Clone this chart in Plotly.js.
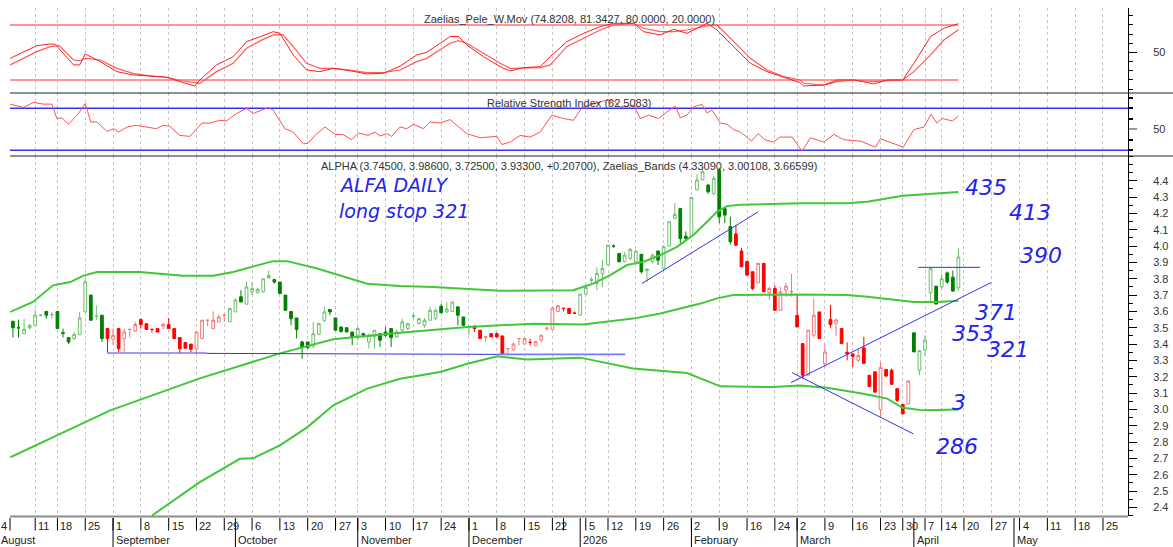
<!DOCTYPE html>
<html><head><meta charset="utf-8">
<script src="https://cdn.plot.ly/plotly-3.0.1.min.js"></script>
<style>html,body{margin:0;padding:0;background:#fff}#chart{width:1173px;height:547px}</style>
</head><body><div id="chart"></div>
<script>
// ---------- calendar ----------
const calendarStart = '2025-08-01';
const calendarEnd = '2026-05-29';
const holidays = ['2025-08-15','2025-10-28','2025-12-24','2025-12-25','2025-12-26','2026-01-01','2026-01-06','2026-02-23','2026-03-25','2026-04-03','2026-04-06','2026-04-10','2026-04-13'];
const monthNames = ['January','February','March','April','May','June','July','August','September','October','November','December'];

// ---------- candles (trading-day index of first candle = 1, 2025-08-05) ----------
const firstCandle = 1;
const open = [3.54,3.50,3.465,3.50,3.515,3.577,3.60,3.58,3.60,3.47,
3.44,3.434,3.458,3.597,3.70,3.57,3.577,3.495,3.43,3.495,
3.434,3.49,3.48,3.55,3.525,3.49,3.495,3.51,3.52,3.495,
3.44,3.41,3.40,3.37,3.434,3.546,3.495,3.536,3.577,3.536,
3.597,3.69,3.644,3.72,3.715,3.72,3.805,3.795,3.78,3.70,
3.60,3.56,3.413,3.413,3.39,3.46,3.545,3.612,3.56,3.505,
3.50,3.474,3.454,3.464,3.413,3.444,3.464,3.474,3.495,3.444,
3.485,3.495,3.57,3.526,3.515,3.546,3.556,3.632,3.597,3.60,
3.628,3.566,3.50,3.51,3.485,3.444,3.464,3.464,3.45,3.372,
3.365,3.434,3.40,3.41,3.39,3.424,3.495,3.49,3.60,3.62,
3.618,3.59,3.577,3.706,3.79,3.771,3.832,3.884,4.00,3.955,
3.904,3.925,3.904,3.95,3.85,3.904,3.97,3.865,4.00,4.17,
4.231,4.06,4.06,4.344,4.405,4.374,4.323,4.466,4.23,4.12,
4.075,3.97,3.906,3.843,3.775,3.894,3.715,3.74,3.607,3.73,
3.72,3.575,3.403,3.21,3.454,3.597,3.28,3.55,3.527,3.495,
3.35,3.34,3.30,3.376,3.209,3.23,2.998,3.245,3.24,3.127,
3.03,3.035,3.469,3.24,3.363,3.714,3.755,3.75,3.836,3.81,
3.745];
const high = [3.54,3.55,3.555,3.525,3.61,3.58,3.60,3.597,3.60,3.495,
3.44,3.474,3.597,3.80,3.70,3.638,3.577,3.495,3.495,3.50,
3.495,3.49,3.536,3.556,3.525,3.49,3.495,3.53,3.56,3.495,
3.44,3.41,3.40,3.474,3.546,3.546,3.60,3.58,3.577,3.618,
3.68,3.73,3.785,3.78,3.745,3.80,3.852,3.80,3.78,3.70,
3.60,3.56,3.42,3.413,3.536,3.53,3.63,3.612,3.56,3.505,
3.50,3.474,3.505,3.47,3.464,3.485,3.464,3.505,3.495,3.49,
3.556,3.53,3.59,3.56,3.56,3.63,3.618,3.648,3.658,3.66,
3.628,3.566,3.515,3.515,3.485,3.444,3.464,3.47,3.45,3.375,
3.41,3.434,3.44,3.434,3.42,3.458,3.51,3.625,3.638,3.62,
3.618,3.60,3.706,3.75,3.812,3.87,3.914,4.006,4.01,3.955,
3.965,3.99,3.975,3.95,3.86,3.955,3.97,4.006,4.15,4.262,
4.231,4.09,4.30,4.44,4.47,4.38,4.43,4.48,4.24,4.18,
4.13,3.99,3.906,3.843,3.895,3.894,3.75,3.76,3.75,3.775,
3.83,3.70,3.403,3.485,3.68,3.597,3.40,3.64,3.555,3.495,
3.41,3.34,3.37,3.445,3.209,3.23,3.29,3.245,3.25,3.127,
3.03,3.18,3.469,3.36,3.455,3.863,3.755,3.83,3.845,3.85,
3.986];
const low = [3.44,3.44,3.46,3.49,3.515,3.57,3.556,3.556,3.495,3.44,
3.40,3.424,3.454,3.597,3.546,3.546,3.413,3.352,3.393,3.352,
3.352,3.44,3.474,3.495,3.49,3.47,3.474,3.49,3.495,3.434,
3.34,3.37,3.35,3.34,3.434,3.51,3.495,3.536,3.536,3.536,
3.597,3.658,3.644,3.70,3.71,3.715,3.80,3.77,3.71,3.607,
3.515,3.434,3.31,3.37,3.372,3.454,3.536,3.577,3.485,3.47,
3.474,3.393,3.424,3.44,3.372,3.372,3.383,3.444,3.383,3.44,
3.474,3.485,3.556,3.52,3.50,3.546,3.546,3.59,3.59,3.597,
3.515,3.51,3.454,3.474,3.434,3.413,3.444,3.44,3.34,3.33,
3.36,3.393,3.40,3.393,3.39,3.413,3.48,3.49,3.597,3.60,
3.587,3.585,3.577,3.70,3.761,3.73,3.75,3.884,3.99,3.904,
3.904,3.915,3.904,3.832,3.78,3.894,3.884,3.853,4.00,4.165,
4.015,4.03,4.06,4.344,4.405,4.32,4.31,4.14,4.14,4.01,
4.0,3.874,3.822,3.73,3.775,3.72,3.67,3.607,3.607,3.69,
3.69,3.505,3.188,3.21,3.44,3.434,3.26,3.50,3.45,3.403,
3.30,3.26,3.29,3.282,3.14,3.10,2.95,3.20,3.15,3.045,
2.97,3.03,3.352,3.21,3.33,3.66,3.645,3.74,3.77,3.72,
3.725];
const close = [3.50,3.50,3.49,3.515,3.577,3.577,3.577,3.58,3.495,3.465,
3.413,3.458,3.56,3.781,3.546,3.57,3.434,3.434,3.454,3.372,
3.474,3.49,3.52,3.52,3.49,3.49,3.474,3.52,3.495,3.434,
3.372,3.375,3.368,3.474,3.546,3.546,3.546,3.566,3.577,3.618,
3.67,3.658,3.75,3.74,3.735,3.80,3.82,3.78,3.71,3.607,
3.556,3.49,3.378,3.378,3.464,3.525,3.597,3.597,3.485,3.478,
3.474,3.444,3.495,3.454,3.454,3.485,3.424,3.454,3.44,3.474,
3.536,3.525,3.572,3.556,3.546,3.607,3.607,3.592,3.615,3.658,
3.577,3.515,3.505,3.495,3.434,3.444,3.444,3.444,3.34,3.372,
3.40,3.434,3.434,3.41,3.415,3.454,3.497,3.62,3.635,3.618,
3.587,3.588,3.706,3.747,3.795,3.832,3.863,4.006,4.00,3.904,
3.945,3.98,3.97,3.843,3.86,3.945,3.914,3.996,4.149,4.194,
4.047,4.047,4.298,4.405,4.456,4.333,4.415,4.18,4.19,4.027,
4.006,3.874,3.822,3.74,3.894,3.72,3.74,3.607,3.72,3.755,
3.722,3.505,3.209,3.485,3.577,3.434,3.352,3.52,3.548,3.403,
3.34,3.325,3.33,3.282,3.14,3.106,3.256,3.204,3.154,3.055,
2.973,3.174,3.352,3.36,3.424,3.862,3.645,3.80,3.78,3.725,
3.933];
// trading-day index ranges where candles are drawn red (rest green)
const redRanges = [[18,39],[84,102],[131,162]];

// ---------- Zaelias bands (trading-day index, price) ----------
const upperBandX = [0.5,4.6,8.2,11.3,13.6,16.1,23.8,31.6,37,40.6,47.8,50.3,55.7,64.7,70.6,76.5,88.6,101.7,103.5,105.3,108.4,111.4,114.4,117.4,120.4,123.4,125.8,127.6,129.4,131.8,142.6,151,154.6,161,171];
const upperBandY = [3.597,3.658,3.76,3.78,3.818,3.842,3.842,3.818,3.818,3.842,3.908,3.908,3.863,3.77,3.755,3.75,3.726,3.73,3.75,3.77,3.822,3.884,3.904,3.945,3.996,4.07,4.149,4.21,4.245,4.253,4.262,4.262,4.272,4.309,4.331];
const midBandX = [0.5,18.5,34.6,49,58.6,70.6,82.7,94.5,103.5,112.5,117.4,124.6,127.6,130.5,142.5,151,154.6,163,167.2,171];
const midBandY = [2.707,2.994,3.19,3.343,3.43,3.47,3.505,3.525,3.52,3.556,3.587,3.648,3.68,3.70,3.704,3.70,3.69,3.658,3.658,3.666];
const lowBandX = [26,34.6,41.8,44.2,49,53.9,58.6,64.7,70.6,77.8,82.7,88.1,93.5,103,112.5,122.2,128.2,137.7,142.5,147.4,153.9,158.2,161,164.7,171];
const lowBandY = [2.35,2.554,2.697,2.70,2.78,2.89,3.025,3.127,3.188,3.229,3.28,3.325,3.305,3.317,3.25,3.223,3.141,3.137,3.147,3.133,3.096,3.066,3.01,2.994,3.0];

// ---------- Zaelias_Pele_W.Mov ----------
const wmovFastX = [0.5,3.5,5.3,7.7,8.6,11.9,13,14,16.7,19.7,22.6,25.6,28.6,31.6,33.7,34.6,37.6,40.6,43,45.5,47.8,49,51.4,53.8,56.2,58.6,61.6,64.6,67.6,70.6,73.6,75.4,79.6,81.1,82.6,85.6,88.6,90.4,92.8,95.8,97.6,100.6,103.6,106.6,109,112.6,114.4,117.4,119.8,122.2,125.8,127.6,130.6,133.6,136.6,139.6,142.5,143.2,146.8,149.2,152.2,155.8,158.2,161,163,166,168.4,171];
const wmovFastY = [43.6,52.7,57.4,59.3,58.9,36.4,36.4,48.4,40,29.1,25.5,24.4,23,17.1,13.5,20,36.4,45.4,61.8,67.3,72.7,70.9,47.3,30.9,29.1,32.7,30.1,26.6,27.3,35,47.3,50.2,67.3,67.5,58.2,45.4,34.5,29.8,33.5,34.5,45.4,61.8,70.9,78.2,81.8,81.8,72.7,69.1,75.3,70.9,81.8,74.5,56.3,38.2,29.1,23,17.1,13.5,14.5,20,20,15.7,20,20,38.2,67.3,76.4,81.3427];
const wmovSlowX = [0.5,3.5,5.3,7.7,9.3,11.9,13,14,16.7,19.7,22.6,25.6,28.6,31.6,34.6,37.6,40.6,43,45.5,47.8,49.5,51.4,53.8,56.2,58.6,61.6,64.6,67.6,70.6,73.6,75.4,79.6,81.1,82.6,85.6,88.6,90.4,92.8,95.8,97.6,100.6,103.6,106.6,109,112.6,114.4,117.4,119.8,122.2,125.8,127.6,130.6,133.6,136.6,139.6,142.5,143.2,146.8,149.2,152.2,155.8,158.2,161,163,166,168.4,171];
const wmovSlowY = [36.4,45.4,50.9,56.3,57.5,41.8,41,43.6,41.8,32.7,27.3,24.4,23,18.9,16.4,29.1,38.2,54.5,62.9,69.1,69.5,56.3,38.2,32.7,32.7,30.9,28,28,30.9,40,43.6,60,62.9,60,49.1,38.2,32.7,32.7,33.5,36.4,56.3,65.5,74.5,80,81.8,76.4,72.7,72.7,74.5,78.9,80,61.8,43.6,30.9,23.6,20,16.4,14.5,18.2,20,18.2,19.3,20,29.1,47.3,63.6,74.8208];
const wmovLevels = [80, 20];

// ---------- RSI ----------
const rsiX = [0.5,2.9,4.7,6.5,8.0,8.9,9.8,11,12.8,14,15,16.1,17.9,19.1,20,21.5,23.2,25,26.8,28,29.2,31,32.8,35,36.4,38.2,39.4,41.2,43,44.2,46.9,47.8,49.9,51.4,53.2,54.1,55.3,57.1,58.9,60.4,61.9,63.1,64.9,66.1,67,68.2,69.1,70.6,71.8,73,74.8,76,77.8,79.6,82.6,85,88,88.9,90.4,92.2,94,95.8,97.9,100,101.8,103.3,106,107.8,109.3,110.2,112.6,113.8,115.3,117.1,118.6,120.1,121,122.2,123.4,124.9,125.8,126.7,128.2,129.4,130.6,131.8,133.8,135,136.2,137.7,138.9,141.1,142.9,144.4,146.8,148.6,150.4,153.4,156.1,157,161.1,163,164.8,166.1,167.1,168.1,169.9,171];
const rsiY = [74,70.8,75.7,74,74,60.3,61,54.8,65.1,74.7,57,57,48,50.6,47.4,52.2,53.8,52.2,50.6,53.8,52.9,44.2,43.3,56,56,58.6,58,65.1,69.9,65.1,70.8,68.2,50.6,47.4,36.2,36.8,44.2,52.2,45.2,44.9,40.1,46.5,44.2,47.4,43.6,45.9,43.3,52.2,50.6,54.8,50.6,57,56,59.2,45.9,42,43.3,35.6,37.8,44.2,42.6,47.4,63.5,60.3,58.6,70.8,74.7,77.9,76.3,70.8,73.1,60.3,63.5,60.3,66.7,72.1,61,63.5,71.5,73.7,65.7,68.2,56,54.8,49.7,47.4,38.8,45.9,40.1,37.8,42.6,42.6,29.2,42,37.8,45.2,40.1,38.8,33,41,33,49.7,52.2,64.4,56,60.3,58,62.5083];
const rsiLevels = [70, 30];

// ---------- drawn trend lines ----------
const trendX0 = [17.9, 35.9, 88, 114.1, 140.9, 141.1, 163.8];
const trendY0 = [3.345, 3.343, 3.337, 3.771, 3.164, 3.225, 3.87];
const trendX1 = [35.9, 88, 111.1, 135, 176.9, 162.9, 174.9];
const trendY1 = [3.345, 3.337, 3.337, 4.21, 3.777, 2.85, 3.87];

// ---------- handwritten notes ----------
const noteText = ['ALFA DAILY','long stop 321','435','413','390','371','353','321','3','286'];
const noteX = [59.3, 59.3, 171.9, 179.8, 181.8, 173.7, 169.5, 175.8, 169.5, 166.6];
const noteY = [4.374, 4.215, 4.362, 4.209, 3.945, 3.595, 3.466, 3.368, 3.043, 2.773];

// ---------- titles ----------
const titleWmov = 'Zaelias_Pele_W.Mov (74.8208, 81.3427, 80.0000, 20.0000)';
const titleRsi = 'Relative Strength Index (62.5083)';
const titleMain = 'ALPHA (3.74500, 3.98600, 3.72500, 3.93300, +0.20700), Zaelias_Bands (4.33090, 3.00108, 3.66599)';

// ================= build =================
const ymd = d => d.toISOString().slice(0,10);
const days = [];
{
  let d = new Date(calendarStart + 'T00:00:00Z');
  const e = new Date(calendarEnd + 'T00:00:00Z');
  while (d <= e) {
    const wd = d.getUTCDay();
    if (wd !== 0 && wd !== 6 && !holidays.includes(ymd(d))) days.push(new Date(d));
    d = new Date(d.getTime() + 86400000);
  }
}
const idxOf = k => k - 1; // 2025-08-04 -> 0
const weekKey = dt => { const wd = (dt.getUTCDay() + 6) % 7; return ymd(new Date(dt.getTime() - wd*86400000)); };
const weeks = [], months = [];
for (let k = 0; k < days.length; k++) {
  if (k === 0 || weekKey(days[k]) !== weekKey(days[k-1])) weeks.push({idx: idxOf(k), dt: days[k]});
  if (k === 0 || days[k].getUTCMonth() !== days[k-1].getUTCMonth()) months.push({idx: idxOf(k), dt: days[k]});
}
weeks.forEach((w, j) => {
  const nxt = j + 1 < weeks.length ? weeks[j+1].idx : 1e9;
  w.skip = months.some(m => m.dt.getUTCMonth() === 0 && m.idx > w.idx && m.idx < nxt);
});

const X0 = 0.47, X1 = 201.5;
const PW = 1118;              // plot width px
const PH = 508;               // plot height px
const py = px => -px / PH;    // px below plot bottom -> paper y
const toPaperX = ix => (ix - X0) / (X1 - X0);
const leftEdgePaper = -9 / PW; // figure's left edge (+1px) in paper units

// candles
const g = {x:[],o:[],h:[],l:[],c:[]}, r = {x:[],o:[],h:[],l:[],c:[]};
const n = Math.min(open.length, high.length, low.length, close.length);
for (let k = 0; k < n; k++) {
  const ix = firstCandle + k;
  const isRed = redRanges.some(([a,b]) => ix >= a && ix <= b);
  const t = isRed ? r : g;
  t.x.push(ix); t.o.push(open[k]); t.c.push(close[k]);
  t.h.push(Math.max(high[k], open[k], close[k])); t.l.push(Math.min(low[k], open[k], close[k]));
}
const candle = (t, upCol, dnCol) => ({
  type:'candlestick', x:t.x, open:t.o, high:t.h, low:t.l, close:t.c, xaxis:'x', yaxis:'y',
  increasing:{line:{color:upCol, width:1}, fillcolor:'#ffffff'},
  decreasing:{line:{color:dnCol, width:1}, fillcolor:dnCol},
  whiskerwidth:0, hoverinfo:'skip'
});

const traces = [];
const bandStyle = {color:'rgb(64,200,56)', width:2};
traces.push({type:'scatter', mode:'lines', x:upperBandX, y:upperBandY, line:bandStyle, xaxis:'x', yaxis:'y', hoverinfo:'skip'});
traces.push({type:'scatter', mode:'lines', x:midBandX, y:midBandY, line:bandStyle, xaxis:'x', yaxis:'y', hoverinfo:'skip'});
traces.push({type:'scatter', mode:'lines', x:lowBandX, y:lowBandY, line:bandStyle, xaxis:'x', yaxis:'y', hoverinfo:'skip'});
for (let k = 0; k < trendX0.length; k++) {
  const light = (k === 0 || k === 2);
  traces.push({type:'scatter', mode:'lines', x:[trendX0[k], trendX1[k]], y:[trendY0[k], trendY1[k]],
    line:{color: light ? 'rgb(120,120,255)' : 'rgb(50,50,230)', width: light ? 1.6 : 1}, xaxis:'x', yaxis:'y', hoverinfo:'skip'});
}
traces.push(candle(g, 'rgb(110,190,110)', 'rgb(0,128,0)'));
traces.push(candle(r, 'rgb(242,120,120)', 'rgb(255,0,0)'));

// W.Mov panel
wmovLevels.forEach(v => traces.push({type:'scatter', mode:'lines', x:[X0, firstCandle + n - 1], y:[v, v],
  line:{color:'rgb(255,150,150)', width:2}, xaxis:'x', yaxis:'y3', hoverinfo:'skip'}));
traces.push({type:'scatter', mode:'lines', x:wmovSlowX, y:wmovSlowY, line:{color:'rgb(255,90,90)', width:1.2}, xaxis:'x', yaxis:'y3', hoverinfo:'skip'});
traces.push({type:'scatter', mode:'lines', x:wmovFastX, y:wmovFastY, line:{color:'rgb(255,30,30)', width:1}, xaxis:'x', yaxis:'y3', hoverinfo:'skip'});

// RSI panel
rsiLevels.forEach(v => traces.push({type:'scatter', mode:'lines', x:[X0, X1], y:[v, v],
  line:{color:'rgb(50,50,255)', width:1.5}, xaxis:'x', yaxis:'y2', hoverinfo:'skip'}));
traces.push({type:'scatter', mode:'lines', x:rsiX, y:rsiY, line:{color:'rgb(255,80,80)', width:1}, xaxis:'x', yaxis:'y2', hoverinfo:'skip'});

// annotations
const baseFont = {family:'Liberation Sans, Arial, sans-serif', size:11, color:'#222'};
const ann = [];
ann.push({xref:'paper', yref:'paper', x:0.5, y:(516-19)/PH, text:titleWmov, showarrow:false, font:{...baseFont, color:'#333'}, xanchor:'center', yanchor:'middle'});
ann.push({xref:'paper', yref:'paper', x:0.5, y:(516-103)/PH, text:titleRsi, showarrow:false, font:{...baseFont, color:'#333'}, xanchor:'center', yanchor:'middle'});
ann.push({xref:'paper', yref:'paper', x:0.5, y:(516-166)/PH, text:titleMain, showarrow:false, font:{...baseFont, color:'#333'}, xanchor:'center', yanchor:'middle'});
noteText.forEach((t, k) => ann.push({xref:'x', yref:'y', x:noteX[k], y:noteY[k], text:t, showarrow:false,
  xanchor:'left', yanchor:'middle', font:{family:'DejaVu Sans, sans-serif', size: k < 2 ? 19 : 22, style:'italic', color:'rgb(35,35,235)'}}));

const shapes = [];
weeks.forEach(w => {
  if (w.idx < 0) return;
  const inside = w.idx > X0;
  if (!w.skip) ann.push({xref:'paper', yref:'paper', x: inside ? toPaperX(w.idx) : leftEdgePaper, y:py(9.5),
    text:String(w.dt.getUTCDate()), showarrow:false, xanchor:'left', yanchor:'middle', xshift: inside ? 1 : -2, font:baseFont});
  if (inside) shapes.push({type:'line', xref:'x', yref:'paper', x0:w.idx, x1:w.idx, y0:py(2), y1:py(14.5), line:{color:'#000', width:1}});
});
months.forEach(m => {
  const inside = m.idx > X0;
  const txt = m.dt.getUTCMonth() === 0 ? String(m.dt.getUTCFullYear()) : monthNames[m.dt.getUTCMonth()];
  ann.push({xref:'paper', yref:'paper', x: inside ? toPaperX(m.idx) : leftEdgePaper, y:py(23.5), text:txt, showarrow:false,
    xanchor:'left', yanchor:'middle', xshift: inside ? 1 : -2, font:baseFont});
  if (inside) shapes.push({type:'line', xref:'x', yref:'paper', x0:m.idx, x1:m.idx, y0:py(2), y1:py(31), line:{color:'#000', width:1}});
});
shapes.push({type:'line', xref:'paper', yref:'paper', x0:0, x1:0, y0:py(2), y1:py(14.5), line:{color:'#000', width:1}});
// bottom border of price panel
shapes.push({type:'line', xref:'paper', yref:'paper', x0:0, x1:1, y0:py(0.5), y1:py(0.5), line:{color:'#8c8c8c', width:2}});
// panel separators (extend to right edge of figure)
const xRightFig = 1 + 45/PW;
shapes.push({type:'line', xref:'paper', yref:'paper', x0:0, x1:xRightFig, y0:(516-93)/PH, y1:(516-93)/PH, line:{color:'#222', width:1}});
shapes.push({type:'line', xref:'paper', yref:'paper', x0:0, x1:xRightFig, y0:(516-156)/PH, y1:(516-156)/PH, line:{color:'#222', width:1}});

const yCommon = {side:'right', anchor:'x', showgrid:false, zeroline:false, showline:true, linecolor:'#000', linewidth:1,
  ticks:'outside', ticklen:8, tickcolor:'#000', tickfont:{...baseFont, color:'#333'}, ticklabelstandoff:14, fixedrange:true};
const mainTicks = [2.4,2.5,2.6,2.7,2.8,2.9,3.0,3.1,3.2,3.3,3.4,3.5,3.6,3.7,3.8,3.9,4.0,4.1,4.2,4.3,4.4];

const layout = {
  width:1173, height:547, margin:{l:10, r:45, t:8, b:31}, paper_bgcolor:'#fff', plot_bgcolor:'#fff',
  showlegend:false, hovermode:false, dragmode:false,
  xaxis:{range:[X0, X1], domain:[0,1], anchor:'y', tickmode:'array',
    tickvals: weeks.filter(w => !w.skip && w.idx > X0).map(w => w.idx),
    showticklabels:false, ticks:'', showgrid:true, gridcolor:'#c6c6c6', griddash:'3px,3px', gridwidth:1,
    zeroline:false, showline:false, rangeslider:{visible:false}, fixedrange:true},
  yaxis:{...yCommon, domain:[0, 360/PH], range:[2.347, 4.552], tickmode:'array', tickvals:mainTicks,
    ticktext: mainTicks.map(v => v.toFixed(1)),
    minor:{tickmode:'linear', tick0:0, dtick:0.05, ticks:'outside', ticklen:4, tickcolor:'#000'}},
  yaxis2:{...yCommon, domain:[360/PH, 423/PH], range:[24.6, 84.6], tickmode:'array', tickvals:[50], ticktext:['50'],
    tickcolor:'#999', tickwidth:2,
    minor:{tickmode:'linear', tick0:0, dtick:10, ticks:'outside', ticklen:4, tickcolor:'#000'}},
  yaxis3:{...yCommon, domain:[423/PH, 1], range:[5.8, 98.5], tickmode:'array', tickvals:[50], ticktext:['50'],
    minor:{tickmode:'linear', tick0:0, dtick:10, ticks:'outside', ticklen:4, tickcolor:'#000'}},
  annotations: ann, shapes: shapes
};

Plotly.newPlot('chart', traces, layout, {staticPlot:true, displayModeBar:false});
</script>
</body></html>
